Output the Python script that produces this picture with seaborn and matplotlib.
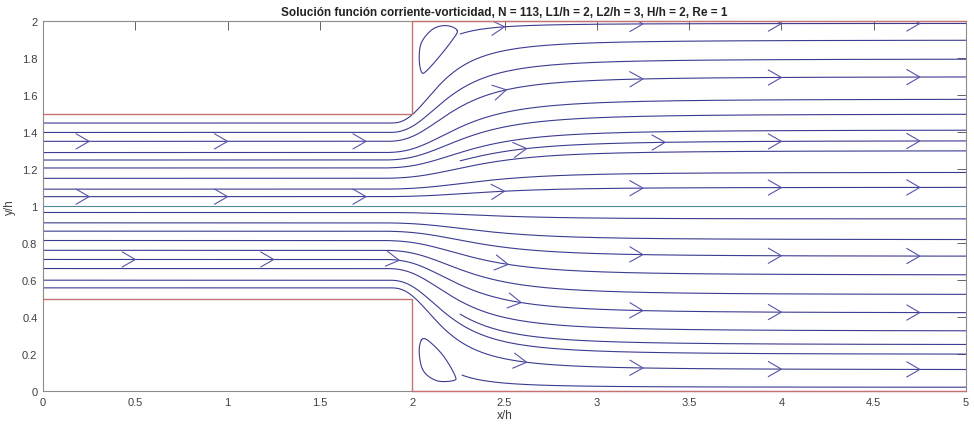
import numpy as np
import pandas as pd
import matplotlib
matplotlib.use("Agg")
import matplotlib.pyplot as plt
import seaborn as sns

# Streamlines, labelled by their height far downstream (y/h at x/h = 5)
outlet_y = [1.987, 1.897, 1.795, 1.699, 1.578, 1.497, 1.411, 1.353, 1.299, 1.182, 1.101,
            0.930, 0.818, 0.728, 0.627, 0.521, 0.422, 0.324, 0.250, 0.198, 0.115, 0.020]
# x/h where each streamline segment begins
start_x = [2.26, 0.0, 0.0, 0.0, 0.0, 0.0, 0.0, 2.26, 0.0, 0.0, 0.0,
           0.0, 0.0, 0.0, 0.0, 0.0, 0.0, 0.0, 2.26, 0.0, 0.0, 2.27]
centre_y = 1.0

# Direction arrows: streamline (by outlet height) and x/h of each arrow tip
arrow_lines = [1.987, 1.699, 1.353, 1.101, 0.627, 0.728, 0.422, 0.115]
arrow_x = [
    [2.50, 3.25, 4.00, 4.75],
    [0.25, 1.00, 1.75, 2.51, 3.25, 4.00, 4.75],
    [2.62, 3.37, 4.00, 4.75],
    [0.25, 1.00, 1.75, 2.50, 3.25, 4.00, 4.75],
    [2.52],
    [3.25, 4.00, 4.75],
    [0.50, 1.25, 1.93, 2.59, 3.25, 4.00, 4.75],
    [2.62, 3.25, 4.00, 4.75],
]

# Closed recirculation streamlines behind the step corners
eddy_top_x = [2.244, 2.187, 2.113, 2.051, 2.038, 2.051, 2.078, 2.151, 2.214]
eddy_top_y = [1.948, 1.975, 1.957, 1.885, 1.795, 1.723, 1.731, 1.812, 1.893]
eddy_bot_x = [2.051, 2.038, 2.060, 2.132, 2.222, 2.232, 2.168, 2.087]
eddy_bot_y = [0.277, 0.209, 0.110, 0.056, 0.056, 0.083, 0.191, 0.272]

# Channel walls: inlet 0.5 < y/h < 1.5 for x/h < 2, then 0 < y/h < 2
L1, L2, H = 2.0, 3.0, 2.0
inlet_lo, inlet_hi = 0.5, 1.5

title = "Solución función corriente-vorticidad, N = 113, L1/h = 2, L2/h = 3, H/h = 2, Re = 1"


def stream_y(x, y_out):
    """Height of the streamline that ends at y_out, opening through the expansion."""
    eta = y_out - 1.0
    a = abs(eta)
    xs = 1.75 + 0.15 * a                      # where the streamline starts to open up
    L = 0.70 - 0.45 * a - 0.13 * a ** 20      # distance to half of the opening
    k = 3.0 - 0.6 * a                         # sharpness of the opening
    x = np.asarray(x, dtype=float)
    r = np.clip(x - xs, 1e-9, None)
    s = np.where(x > xs, 1.0 / (1.0 + (L / r) ** k), 0.0)
    return 1.0 + eta * (0.5 + 0.5 * s)


def closed_curve(px, py, n=24):
    P = np.column_stack([px, py])
    m = len(P)
    t = np.linspace(0, 1, n, endpoint=False)[:, None]
    seg = []
    for i in range(m):
        p0, p1, p2, p3 = P[i - 1], P[i], P[(i + 1) % m], P[(i + 2) % m]
        seg.append(0.5 * (2 * p1 + (-p0 + p2) * t + (2 * p0 - 5 * p1 + 4 * p2 - p3) * t ** 2
                          + (-p0 + 3 * p1 - 3 * p2 + p3) * t ** 3))
    seg.append(P[:1])
    return np.vstack(seg)


sns.set_theme(style="white")
plt.rcParams["font.family"] = ["Liberation Sans", "DejaVu Sans"]

fig = plt.figure(figsize=(9.74, 4.31), dpi=100)
ax = fig.add_axes([43 / 974, 39 / 431, 923 / 974, 370 / 431])

line_col = "#3b3b92"
arrow_col = "#5555ab"

# streamlines as a long-form table
rows = []
for k, (yo, xs) in enumerate(zip(outlet_y, start_x)):
    xx = np.linspace(xs, L1 + L2, 500)
    rows.append(pd.DataFrame({"x": xx, "y": stream_y(xx, yo), "line": k}))
lines = pd.concat(rows, ignore_index=True)
sns.lineplot(data=lines, x="x", y="y", units="line", estimator=None, sort=False,
             color=line_col, lw=0.8, ax=ax, legend=False)

# centre streamline
cx = np.array([0.0, L1 + L2])
sns.lineplot(x=cx, y=np.full(2, centre_y), color="#4f8ca2", lw=0.8, ax=ax)

# eddies
for ex, ey in [(eddy_top_x, eddy_top_y), (eddy_bot_x, eddy_bot_y)]:
    c = closed_curve(ex, ey)
    sns.lineplot(x=c[:, 0], y=c[:, 1], sort=False, estimator=None, color=line_col,
                 lw=0.8, ax=ax)

# chevron arrows
arm, half = 0.082, np.deg2rad(30)
arows = []
cid = 0
for yo, xs in zip(arrow_lines, arrow_x):
    for xt in xs:
        yt = float(stream_y(xt, yo))
        h = 1e-3
        dx, dy = 2 * h, float(stream_y(xt + h, yo) - stream_y(xt - h, yo))
        ang = np.arctan2(dy, dx)
        p1 = (xt - arm * np.cos(ang - half), yt - arm * np.sin(ang - half))
        p2 = (xt - arm * np.cos(ang + half), yt - arm * np.sin(ang + half))
        arows.append(pd.DataFrame({"x": [p1[0], xt, p2[0]], "y": [p1[1], yt, p2[1]],
                                   "arrow": cid}))
        cid += 1
arrows = pd.concat(arows, ignore_index=True)
sns.lineplot(data=arrows, x="x", y="y", units="arrow", estimator=None, sort=False,
             color=arrow_col, lw=0.8, ax=ax, legend=False)

# walls
wall_col = "#c77272"
ax.plot([0, L1, L1, L1 + L2], [inlet_hi, inlet_hi, H, H], color=wall_col, lw=1.0,
        clip_on=False, zorder=5)
ax.plot([0, L1, L1, L1 + L2], [inlet_lo, inlet_lo, 0, 0], color=wall_col, lw=1.0,
        clip_on=False, zorder=5)

ax.set_xlim(0, L1 + L2)
ax.set_ylim(0, H)
ax.set_xticks(np.arange(0, 5.01, 0.5))
ax.set_xticklabels(["0", "0.5", "1", "1.5", "2", "2.5", "3", "3.5", "4", "4.5", "5"])
ax.set_yticks(np.arange(0, 2.01, 0.2))
ax.set_yticklabels(["0", "0.2", "0.4", "0.6", "0.8", "1", "1.2", "1.4", "1.6", "1.8", "2"])
ax.tick_params(direction="in", length=6.5, width=0.6, color="#4a4a4a",
               labelsize=8, labelcolor="#404040", top=True, right=True, pad=4)
for s in ax.spines.values():
    s.set_color("#8c8c8c")
    s.set_linewidth(0.8)
ax.set_xlabel("x/h", fontsize=8.5, color="#404040", labelpad=2)
ax.set_ylabel("y/h", fontsize=8.5, color="#404040", labelpad=4)
ax.set_title(title, fontsize=8.5, fontweight="bold", color="#222222", pad=4)

fig.savefig("out.png", dpi=100)
